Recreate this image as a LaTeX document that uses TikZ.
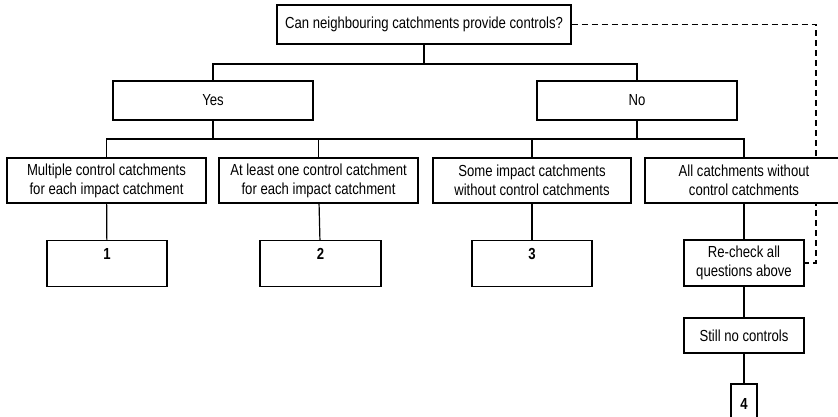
\documentclass[tikz,border=0pt]{standalone}
\usepackage{fontspec}
\setmainfont{Liberation Sans}[FakeStretch=0.82]
\usetikzlibrary{backgrounds}

\begin{document}
\begin{tikzpicture}[x=1pt, y=-1pt,
  box/.style={draw, line width=1.2pt, fill=white, align=center, inner sep=0pt,
    font=\fontsize{16}{19}\selectfont},
  numbox/.style={box, font=\fontsize{16}{19}\selectfont\bfseries},
  link/.style={line width=1.2pt},
  loopback/.style={line width=1.2pt, dash pattern=on 6pt off 4pt}]

  \useasboundingbox (0,0) rectangle (838,416);

  % question and answers
  \node[box, minimum width=294pt, minimum height=39pt] (q) at (424,24.5)
    {Can neighbouring catchments provide controls?};
  \node[box, minimum width=200pt, minimum height=39pt] (yes) at (213,100.5) {Yes};
  \node[box, minimum width=200pt, minimum height=39pt] (no) at (637,100.5) {No};

  % situations
  \node[box, minimum width=199pt, minimum height=45pt] (c1) at (106.5,180.5)
    {Multiple control catchments\\for each impact catchment};
  \node[box, minimum width=199pt, minimum height=45pt] (c2) at (318.5,180.5)
    {At least one control catchment\\for each impact catchment};
  \node[box, minimum width=198pt, minimum height=45pt] (c3) at (532,180.5)
    {Some impact catchments\\without control catchments};
  \node[box, minimum width=198pt, minimum height=45pt] (c4) at (744,180.5)
    {All catchments without\\control catchments};

  % outcomes
  \node[numbox, minimum width=120pt, minimum height=46pt, anchor=north,
    inner ysep=7pt, text height=11.5pt, text depth=20.5pt] (r1) at (107,240) {1};
  \node[numbox, minimum width=121pt, minimum height=46pt, anchor=north,
    inner ysep=7pt, text height=11.5pt, text depth=20.5pt] (r2) at (320.5,240) {2};
  \node[numbox, minimum width=120pt, minimum height=46pt, anchor=north,
    inner ysep=7pt, text height=11.5pt, text depth=20.5pt] (r3) at (532,240) {3};
  \node[box, minimum width=120pt, minimum height=46pt] (recheck) at (744,263)
    {Re-check all\\questions above};
  \node[box, minimum width=120pt, minimum height=35pt] (still) at (744,335.5)
    {Still no controls};
  \node[numbox, minimum width=26pt, minimum height=40pt] (r4) at (744,404) {4};

  % bus lines
  \coordinate (h1) at (425,64);
  \coordinate (h2) at (0,139);
  \coordinate (dv) at (816,0);

  \draw[link] (q.south) -- (q.south |- h1);
  \draw[link] (yes.north) -- (yes.north |- h1) -| (no.north);
  \draw[link] (c1.north) -- (c1.north |- h2) -| (c4.north);
  \draw[link] (yes.south) -- (yes.south |- h2);
  \draw[link] (no.south) -- (no.south |- h2);
  \draw[link] (c2.north) -- (c2.north |- h2);
  \draw[link] (c3.north) -- (c3.north |- h2);

  \draw[link] (c1) -- (r1);
  \draw[link] (c2) -- (r2);
  \draw[link] (c3) -- (r3);
  \draw[link] (c4) -- (recheck);
  \draw[link] (recheck) -- (still);
  \draw[link] (still) -- (r4);

  % dashed loop back to the first question
  \begin{scope}[on background layer]
    \draw[loopback] (q.east) -| (dv |- recheck.east) -- (recheck.east);
  \end{scope}
\end{tikzpicture}
\end{document}
